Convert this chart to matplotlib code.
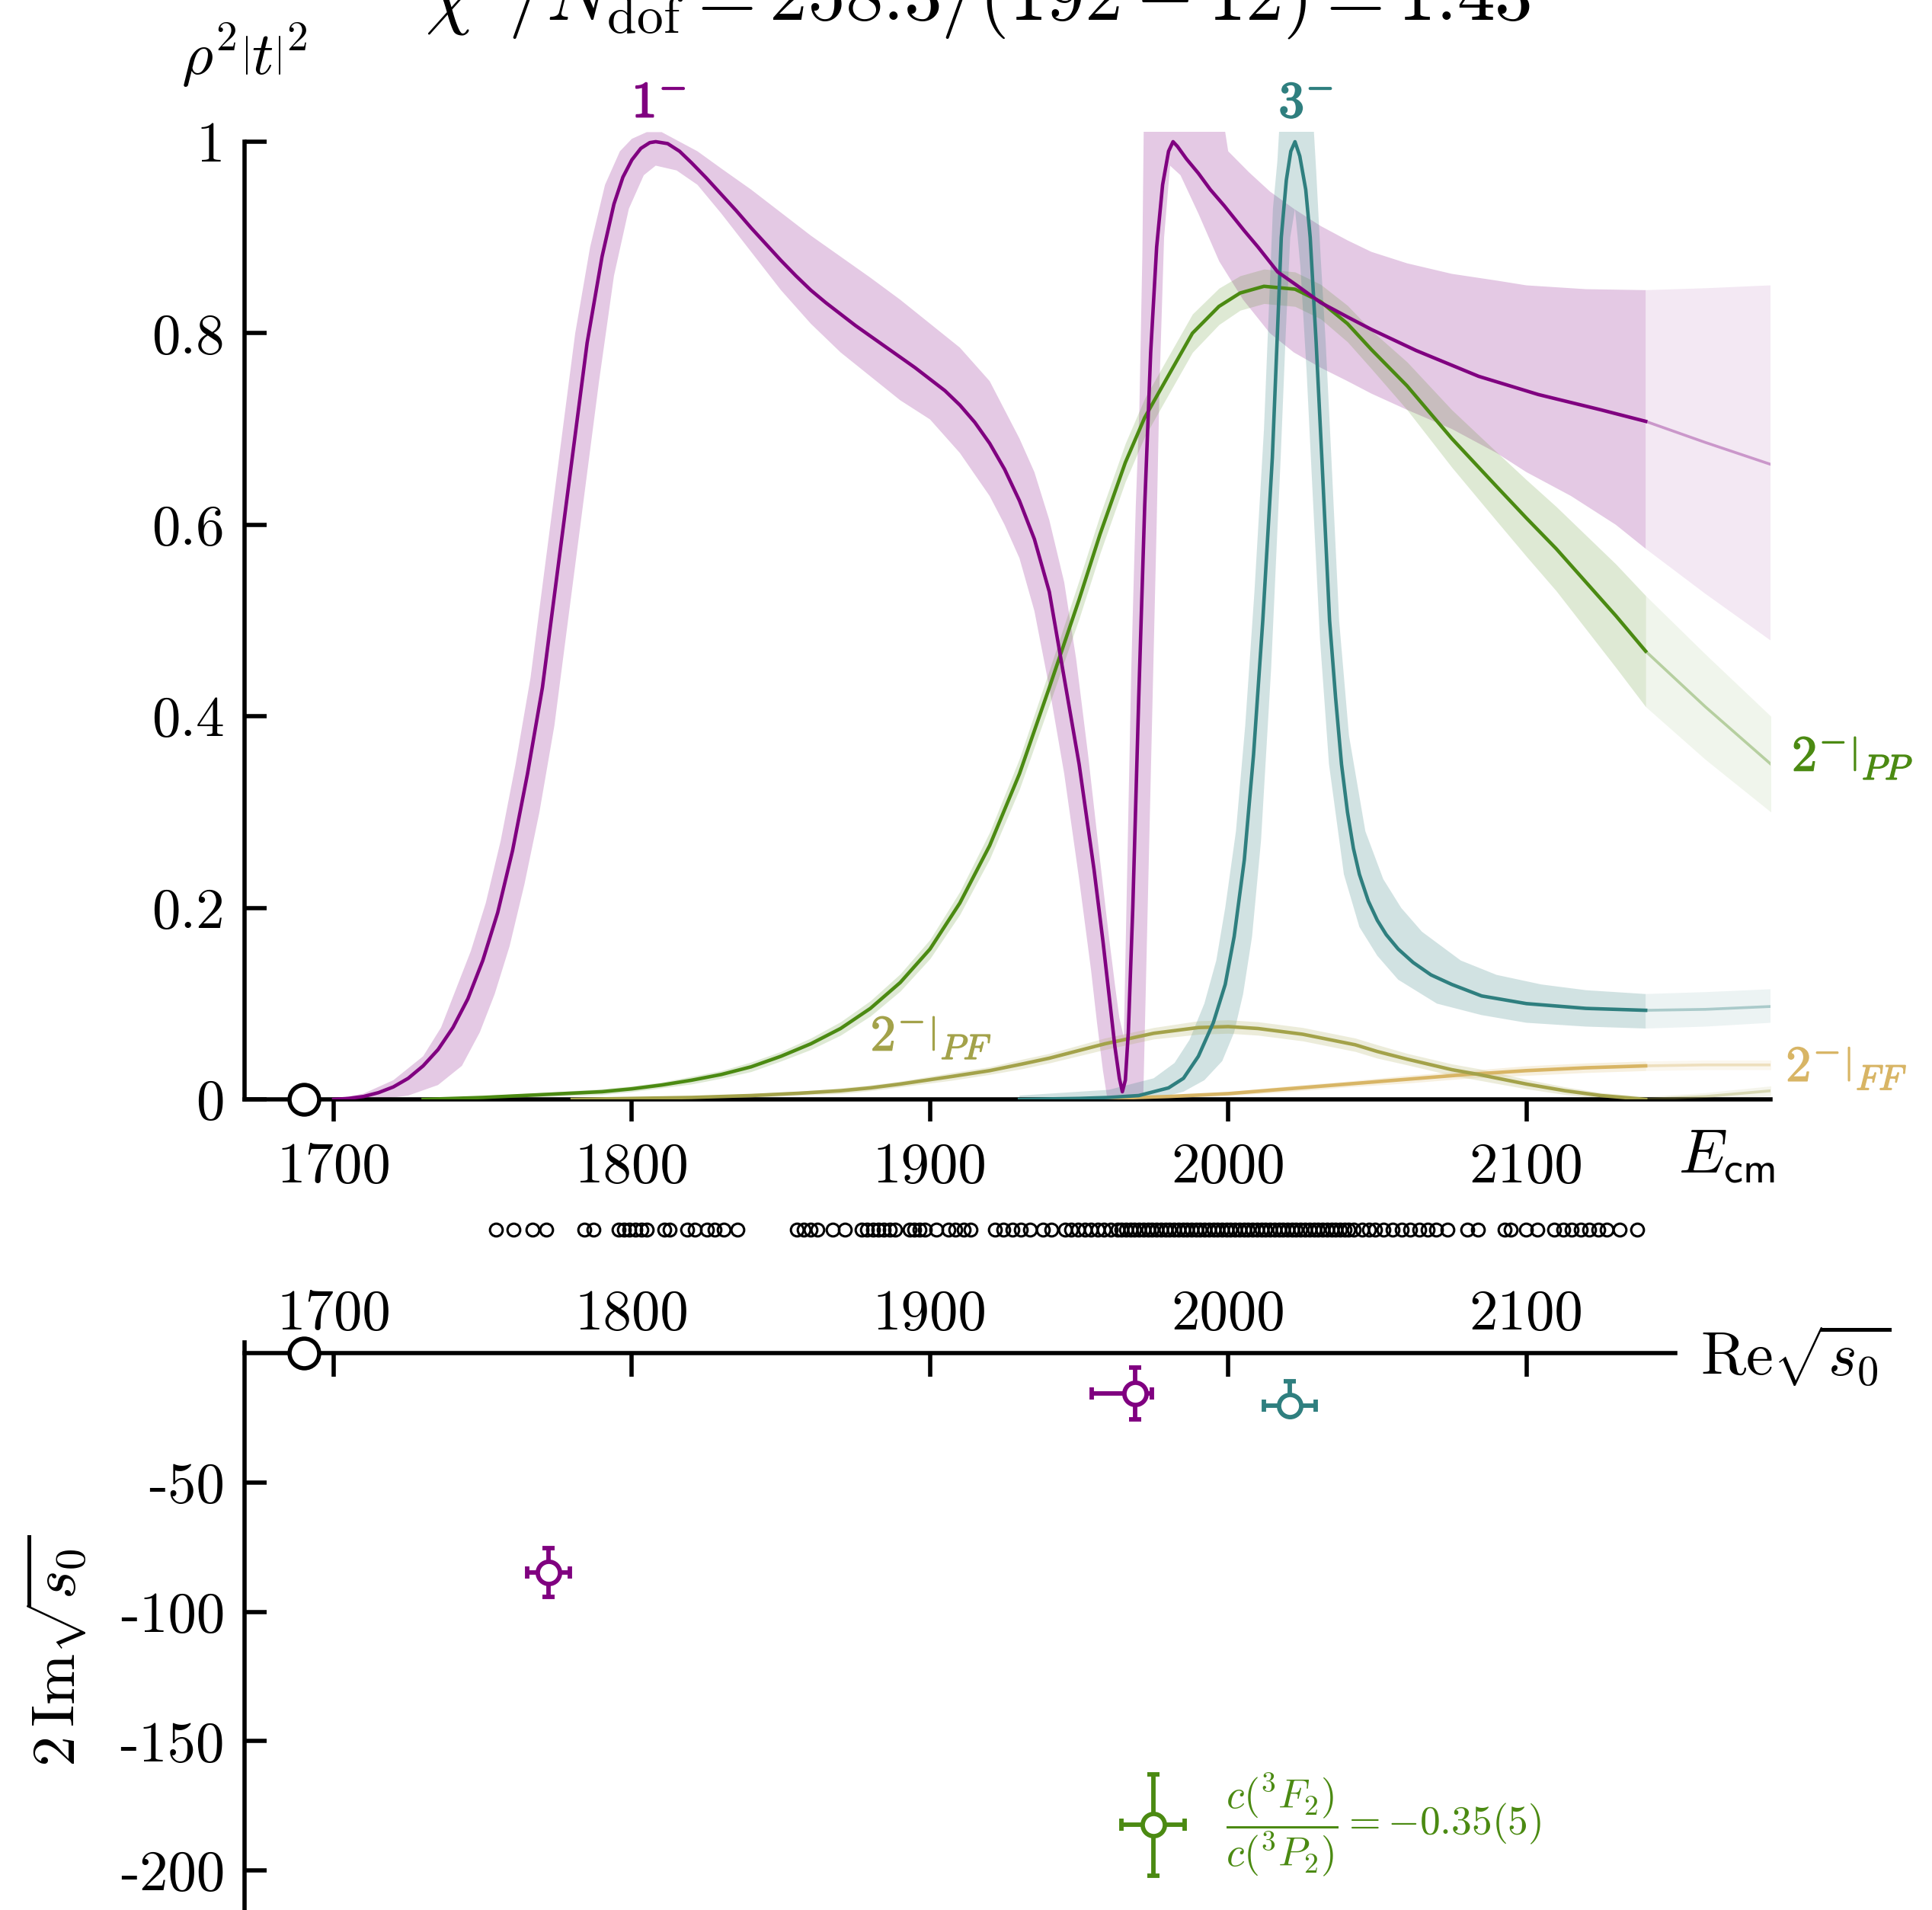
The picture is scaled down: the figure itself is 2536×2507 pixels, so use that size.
import numpy as np
import matplotlib
matplotlib.use("Agg")
import matplotlib.pyplot as plt
import matplotlib.patheffects as pe

plt.rcParams['mathtext.fontset'] = 'cm'
plt.rcParams['font.family'] = ['cmr10', 'DejaVu Serif']
plt.rcParams['axes.formatter.use_mathtext'] = True
plt.rcParams['axes.unicode_minus'] = False

PURPLE = '#800080'
TEAL = '#2f7f7f'
GREEN = '#4b8a12'
OLIVE = '#a3a24a'
GOLD = '#d8b565'

# ---- J^P = 1^- amplitude (central curve and band edges) ----
one_E = [1700, 1705, 1710, 1715, 1720, 1725, 1730, 1735, 1740, 1745, 1750, 1755, 1760, 1765, 1770,
         1775, 1780, 1785, 1790, 1794, 1797, 1800, 1803, 1806, 1808, 1812, 1816, 1820, 1825, 1830,
         1835, 1840, 1845, 1850, 1855, 1860, 1865, 1870, 1875, 1880, 1885, 1890, 1895, 1900, 1905,
         1910, 1915, 1920, 1925, 1930, 1935, 1940, 1945, 1950, 1955, 1958, 1960, 1962, 1963.5,
         1964.5, 1965.5, 1966.5, 1968, 1970, 1972, 1974, 1976, 1978, 1980, 1981.5, 1983, 1986, 1990,
         1994, 1998.7, 2005.4, 2010, 2016.6, 2023, 2031, 2040, 2048, 2063, 2084, 2104, 2125, 2140]
one_v = [0.0, 0.001, 0.003, 0.007, 0.013, 0.022, 0.035, 0.052, 0.075, 0.105, 0.145, 0.195, 0.26, 0.34,
         0.43, 0.55, 0.67, 0.79, 0.88, 0.935, 0.963, 0.981, 0.993, 0.999, 1.0, 0.998, 0.99, 0.978,
         0.962, 0.945, 0.928, 0.91, 0.893, 0.876, 0.86, 0.845, 0.832, 0.82, 0.808, 0.797, 0.786,
         0.775, 0.764, 0.752, 0.74, 0.725, 0.707, 0.685, 0.658, 0.625, 0.585, 0.53, 0.44, 0.35, 0.24,
         0.165, 0.11, 0.055, 0.022, 0.008, 0.02, 0.07, 0.2, 0.42, 0.62, 0.78, 0.89, 0.955, 0.99, 1.0,
         0.995, 0.982, 0.967, 0.95, 0.933, 0.907, 0.89, 0.864, 0.85, 0.832, 0.817, 0.804, 0.782,
         0.755, 0.736, 0.72, 0.708]
one_ext_E = [2140, 2160, 2182]
one_ext_v = [0.708, 0.686, 0.663]

one_hi_E = [1700, 1710, 1720, 1730, 1736, 1741, 1746, 1751, 1756, 1761, 1766, 1771, 1776, 1781, 1786,
            1791, 1796, 1800, 1805, 1810, 1816, 1822, 1830, 1840, 1850, 1860, 1870, 1880, 1890, 1900,
            1910, 1920, 1930, 1935, 1940, 1945, 1949, 1953, 1957, 1960, 1962, 1963.5, 1965, 1966,
            1967.5, 1969, 1970.2, 1971.2, 1971.8, 1997, 2000, 2007, 2014, 2022, 2031, 2040, 2048,
            2060, 2075, 2090, 2100, 2120, 2140]
one_hi_v = [0.0, 0.006, 0.02, 0.045, 0.075, 0.115, 0.155, 0.205, 0.27, 0.35, 0.44, 0.56, 0.68, 0.80,
            0.89, 0.955, 0.99, 1.003, 1.01, 1.01, 1.0, 0.99, 0.972, 0.95, 0.926, 0.902, 0.88, 0.858,
            0.835, 0.81, 0.785, 0.75, 0.69, 0.655, 0.605, 0.54, 0.46, 0.36, 0.25, 0.17, 0.12, 0.085,
            0.065, 0.22, 0.45, 0.62, 0.72, 0.88, 1.05, 1.05, 0.99, 0.968, 0.948, 0.93, 0.912, 0.897,
            0.885, 0.873, 0.862, 0.855, 0.85, 0.846, 0.845]
one_lo_E = [1700, 1715, 1725, 1735, 1743, 1749, 1754, 1759, 1764, 1769, 1774, 1779, 1784, 1789, 1794,
            1799, 1804, 1808, 1815, 1822, 1830, 1840, 1850, 1860, 1870, 1880, 1890, 1900, 1910, 1920,
            1925, 1930, 1935, 1940, 1945, 1950, 1954, 1956, 1958, 1959.5, 1971.5, 1973, 1974.5, 1976,
            1977, 1978.5, 1980.5, 1984, 1990, 1997, 2005, 2014, 2022, 2031, 2040, 2048, 2060, 2075,
            2090, 2100, 2115, 2130, 2140]
one_lo_v = [0.0, 0.0, 0.004, 0.015, 0.035, 0.07, 0.11, 0.16, 0.225, 0.3, 0.39, 0.51, 0.63, 0.75, 0.86,
            0.93, 0.965, 0.975, 0.97, 0.955, 0.925, 0.885, 0.845, 0.81, 0.78, 0.755, 0.73, 0.71, 0.675,
            0.63, 0.6, 0.565, 0.51, 0.43, 0.34, 0.23, 0.135, 0.08, 0.03, 0.0, 0.0, 0.2, 0.4, 0.6, 0.75,
            0.9, 0.975, 0.965, 0.925, 0.875, 0.835, 0.80, 0.78, 0.764, 0.75, 0.737, 0.72, 0.70, 0.675,
            0.655, 0.63, 0.6, 0.575]
one_ext_hi = [0.845, 0.847, 0.85]
one_ext_lo = [0.575, 0.528, 0.479]

# ---- J^P = 3^- amplitude ----
three_E = [1930, 1950, 1960, 1970, 1980, 1985, 1990, 1995, 1999, 2002, 2005.4, 2008.5, 2011.6, 2014.8,
           2016.5, 2017.8, 2019.5, 2021, 2022.4, 2024, 2026, 2027.5, 2029.5, 2031.4, 2034, 2036, 2038,
           2040, 2042, 2044, 2047, 2050, 2053, 2057, 2062, 2068, 2075, 2085, 2100, 2120, 2140]
three_v = [0.0, 0.001, 0.002, 0.004, 0.012, 0.022, 0.045, 0.08, 0.12, 0.17, 0.25, 0.36, 0.5, 0.67, 0.8,
           0.9, 0.96, 0.99, 1.0, 0.985, 0.95, 0.9, 0.79, 0.67, 0.5, 0.42, 0.35, 0.3, 0.262, 0.235,
           0.207, 0.187, 0.172, 0.157, 0.143, 0.13, 0.12, 0.108, 0.1, 0.095, 0.093]
three_ext_E = [2140, 2160, 2182]
three_ext_v = [0.093, 0.094, 0.097]
three_hi_E = [1930, 1960, 1975, 1982, 1987, 1992, 1996, 1999, 2002.6, 2005.7, 2008.8, 2012, 2013.7, 2015,
              2016.5, 2017.8, 2028, 2029.5, 2031, 2032.7, 2034.6, 2037.2, 2040.5, 2046, 2052, 2058,
              2065, 2078, 2090, 2105, 2120, 2140]
three_hi_v = [0.004, 0.01, 0.022, 0.038, 0.062, 0.1, 0.145, 0.2, 0.28, 0.39, 0.53, 0.7, 0.83, 0.93,
              0.98, 1.05, 1.05, 0.97, 0.88, 0.79, 0.67, 0.5, 0.38, 0.28, 0.23, 0.2, 0.175, 0.145, 0.13,
              0.12, 0.114, 0.11]
three_lo_E = [1930, 1975, 1985, 1992, 1998, 2002, 2005, 2008, 2011, 2014.4, 2017.6, 2019.3, 2020.8,
              2022.4, 2024.2, 2026.3, 2028.2, 2030.8, 2033.8, 2038.8, 2044, 2050, 2057, 2070, 2085,
              2100, 2120, 2140]
three_lo_v = [0.0, 0.0, 0.008, 0.02, 0.04, 0.07, 0.11, 0.17, 0.27, 0.45, 0.67, 0.8, 0.9, 0.93, 0.87,
              0.76, 0.64, 0.48, 0.35, 0.235, 0.18, 0.15, 0.125, 0.1, 0.088, 0.08, 0.076, 0.074]
three_ext_hi = [0.11, 0.112, 0.115]
three_ext_lo = [0.074, 0.076, 0.08]

# ---- J^P = 2^- amplitudes: PP, PF and FF channels ----
pp_E = [1730, 1750, 1770, 1790, 1800, 1810, 1820, 1830, 1840, 1850, 1860, 1870, 1880, 1890, 1900,
        1910, 1920, 1930, 1940, 1950, 1957, 1965.5, 1972, 1979.8, 1988, 1996.9, 2004, 2012, 2022.4,
        2031, 2040, 2048, 2060, 2075, 2090, 2100, 2110, 2120, 2130, 2140]
pp_v = [0.0, 0.002, 0.005, 0.008, 0.011, 0.015, 0.02, 0.026, 0.034, 0.045, 0.058, 0.074, 0.095, 0.122,
        0.157, 0.205, 0.265, 0.34, 0.43, 0.522, 0.59, 0.665, 0.712, 0.755, 0.8, 0.828, 0.842, 0.849,
        0.846, 0.833, 0.81, 0.783, 0.745, 0.69, 0.64, 0.607, 0.575, 0.54, 0.505, 0.468]
pp_err = [0.001, 0.002, 0.002, 0.003, 0.003, 0.003, 0.004, 0.004, 0.005, 0.005, 0.006, 0.007, 0.008,
          0.009, 0.01, 0.012, 0.014, 0.016, 0.018, 0.02, 0.02, 0.02, 0.02, 0.02, 0.02, 0.019, 0.018,
          0.018, 0.018, 0.018, 0.019, 0.02, 0.025, 0.03, 0.036, 0.04, 0.044, 0.049, 0.054, 0.058]
pp_ext_E = [2140, 2160, 2182]
pp_ext_v = [0.468, 0.41, 0.35]
pp_ext_err = [0.058, 0.055, 0.05]

pf_E = [1780, 1800, 1820, 1840, 1856, 1870, 1880, 1890, 1907.5, 1920, 1931, 1940, 1958.6, 1975, 1990,
        2000, 2010, 2025, 2042.6, 2050, 2060, 2075, 2084, 2100, 2113, 2125, 2140]
pf_v = [0.0, 0.001, 0.002, 0.004, 0.0064, 0.009, 0.012, 0.016, 0.024, 0.03, 0.037, 0.043, 0.058, 0.069,
        0.075, 0.076, 0.074, 0.068, 0.057, 0.05, 0.042, 0.031, 0.026, 0.016, 0.009, 0.004, 0.0]
pf_err = [0.0, 0.001, 0.001, 0.002, 0.002, 0.003, 0.003, 0.003, 0.004, 0.004, 0.005, 0.005, 0.006,
          0.006, 0.007, 0.007, 0.007, 0.007, 0.007, 0.007, 0.006, 0.006, 0.006, 0.005, 0.004, 0.003,
          0.003]
pf_ext_E = [2140, 2160, 2182]
pf_ext_v = [0.0, 0.003, 0.009]
pf_ext_err = [0.003, 0.004, 0.005]

ff_E = [1950, 1960, 1980, 2000, 2020, 2040, 2060, 2080, 2100, 2120, 2140]
ff_v = [0.0, 0.001, 0.003, 0.006, 0.011, 0.016, 0.021, 0.026, 0.03, 0.033, 0.035]
ff_err = [0.0, 0.001, 0.001, 0.002, 0.003, 0.003, 0.004, 0.004, 0.005, 0.005, 0.005]
ff_ext_E = [2140, 2160, 2182]
ff_ext_v = [0.035, 0.036, 0.036]
ff_ext_err = [0.005, 0.005, 0.005]

# energy levels used in the fit
level_E = [1754.5, 1760.4, 1766.8, 1771.4, 1784.1, 1787.0, 1795.6, 1797.3, 1799.2, 1801.3, 1803.3,
           1804.9, 1810.9, 1812.6, 1818.6, 1821.2, 1825.2, 1827.7, 1830.7, 1835.5, 1855.4, 1857.7,
           1860.0, 1862.3, 1867.4, 1871.4, 1877.1, 1878.8, 1880.9, 1882.8, 1884.5, 1886.6, 1888.2,
           1893.1, 1894.8, 1896.5, 1898.2, 1902.2, 1906.2, 1908.5, 1911.3, 1913.6, 1921.7, 1924.7,
           1927.6, 1930.5, 1933.4, 1937.8, 1940.8, 1945.2, 1947.4, 1949.6, 1951.8, 1954.0, 1956.2,
           1958.4, 1960.6, 1962.8, 1964.2, 1965.7, 1967.2, 1968.6, 1970.1, 1971.6, 1973.0, 1974.5,
           1976.0, 1977.4, 1978.9, 1980.3, 1981.8, 1983.3, 1984.8, 1986.2, 1987.7, 1989.2, 1990.6,
           1992.0, 1993.5, 1995.0, 1996.4, 1997.9, 1999.4, 2000.8, 2002.3, 2003.8, 2005.2, 2006.7,
           2008.2, 2009.6, 2011.1, 2012.6, 2014.0, 2015.5, 2017.0, 2018.4, 2019.9, 2021.4, 2022.8,
           2024.3, 2025.8, 2027.2, 2028.7, 2030.2, 2031.6, 2033.1, 2034.6, 2036.0, 2037.5, 2039.0,
           2040.4, 2042.0, 2044.9, 2047.1, 2049.3, 2052.2, 2055.2, 2058.1, 2061.0, 2064.0, 2066.9,
           2069.8, 2073.5, 2080.1, 2083.8, 2092.6, 2094.8, 2099.9, 2103.6, 2109.4, 2112.3, 2115.3,
           2118.2, 2121.1, 2124.1, 2127.0, 2131.4, 2137.2]

threshold_E = 1690.0

# poles: Re sqrt(s0), 2 Im sqrt(s0) with asymmetric uncertainties
pole_re = [1772.0, 1968.8, 2020.6, 1974.9]
pole_im = [-84.8, -15.6, -20.3, -182.4]
pole_re_lo = [7.2, 14.6, 8.7, 10.6]
pole_re_hi = [7.2, 5.6, 8.7, 10.6]
pole_im_lo = [9.5, 10.0, 4.0, 19.5]
pole_im_hi = [9.5, 10.0, 9.4, 19.5]
pole_colors = [PURPLE, PURPLE, TEAL, GREEN]

e_ticks = [1700, 1800, 1900, 2000, 2100]
e_ticklabels = ['1700', '1800', '1900', '2000', '2100']
amp_ticks = [0, 0.2, 0.4, 0.6, 0.8, 1.0]
amp_ticklabels = ['0', '0.2', '0.4', '0.6', '0.8', '1']
im_ticks = [-50, -100, -150, -200]
im_ticklabels = ['-50', '-100', '-150', '-200']

LW_AX = 4.0
LW_CURVE = 3.3
TICK_FS = 54

fig = plt.figure(figsize=(25.36, 25.07), dpi=100)
ax = fig.add_axes([0.12642, 0.42441, 0.79018, 0.50642])
ax2 = fig.add_axes([0.12642, 0.0, 0.79018, 0.29701])
fig.patch.set_facecolor('white')


def band_polygon(a, hiE, hi, loE, lo, color, alpha, z=1):
    xs = list(hiE) + list(loE)[::-1]
    ys = list(hi) + list(lo)[::-1]
    a.fill(xs, ys, color=color, alpha=alpha, lw=0, zorder=z)


def band_err(a, E, v, err, color, alpha, z=1):
    E = np.asarray(E)
    v = np.asarray(v)
    err = np.asarray(err)
    a.fill_between(E, v - err, v + err, color=color, alpha=alpha, lw=0, zorder=z)


def bold(color, w=1.6):
    return [pe.withStroke(linewidth=w, foreground=color)]


# ---- upper panel: rho^2 |t|^2 ----
ax.set_xlim(1670, 2182)
ax.set_ylim(0, 1.01)

band_polygon(ax, one_hi_E, one_hi_v, one_lo_E, one_lo_v, PURPLE, 0.21)
band_polygon(ax, one_ext_E, one_ext_hi, one_ext_E, one_ext_lo, PURPLE, 0.09)
band_err(ax, pp_E, pp_v, pp_err, GREEN, 0.18)
band_err(ax, pp_ext_E, pp_ext_v, pp_ext_err, GREEN, 0.08)
band_polygon(ax, three_hi_E, three_hi_v, three_lo_E, three_lo_v, TEAL, 0.22)
band_polygon(ax, three_ext_E, three_ext_hi, three_ext_E, three_ext_lo, TEAL, 0.09)
band_err(ax, pf_E, pf_v, pf_err, OLIVE, 0.2)
band_err(ax, pf_ext_E, pf_ext_v, pf_ext_err, OLIVE, 0.1)
band_err(ax, ff_E, ff_v, ff_err, GOLD, 0.2)
band_err(ax, ff_ext_E, ff_ext_v, ff_ext_err, GOLD, 0.1)

for E, v, ext_E, ext_v, c in [
        (ff_E, ff_v, ff_ext_E, ff_ext_v, GOLD),
        (pf_E, pf_v, pf_ext_E, pf_ext_v, OLIVE),
        (pp_E, pp_v, pp_ext_E, pp_ext_v, GREEN),
        (three_E, three_v, three_ext_E, three_ext_v, TEAL),
        (one_E, one_v, one_ext_E, one_ext_v, PURPLE)]:
    ax.plot(E, v, color=c, lw=LW_CURVE, zorder=3, solid_joinstyle='round')
    ax.plot(ext_E, ext_v, color=c, lw=LW_CURVE * 0.8, alpha=0.35, zorder=3)

ax.plot(level_E, np.full(len(level_E), -0.1364), 'o', mfc='none', mec='black', ms=12, mew=2.2,
        clip_on=False, zorder=4)
ax.plot([threshold_E], [0], 'o', mfc='white', mec='black', ms=28, mew=4.0, clip_on=False, zorder=10)

for side in ('top', 'right'):
    ax.spines[side].set_visible(False)
for side in ('left', 'bottom'):
    ax.spines[side].set_linewidth(LW_AX)
ax.spines['left'].set_bounds(0, 1)
ax.set_xticks(e_ticks)
ax.set_xticklabels(e_ticklabels)
ax.set_yticks(amp_ticks)
ax.set_yticklabels(amp_ticklabels)
ax.tick_params(axis='x', direction='out', length=21, width=LW_AX, pad=20, labelsize=TICK_FS)
ax.tick_params(axis='y', direction='in', length=21, width=LW_AX, pad=18.5, labelsize=TICK_FS)

lab_fs = 48
ax.text(1809, 1.0258, r'$\mathbf{1}^{-}$', color=PURPLE, ha='center', va='baseline', fontsize=lab_fs,
        clip_on=False, path_effects=bold(PURPLE))
ax.text(2026, 1.0258, r'$\mathbf{3}^{-}$', color=TEAL, ha='center', va='baseline', fontsize=lab_fs,
        clip_on=False, path_effects=bold(TEAL))
ax.text(2189, 0.343, r'$\left.\mathbf{2}^{-}\right|_{PP}$', color=GREEN, ha='left', va='baseline',
        fontsize=lab_fs, clip_on=False, path_effects=bold(GREEN, 1.0))
ax.text(2187, 0.019, r'$\left.\mathbf{2}^{-}\right|_{FF}$', color=GOLD, ha='left', va='baseline',
        fontsize=lab_fs, clip_on=False, path_effects=bold(GOLD, 1.0))
ax.text(1880, 0.051, r'$\left.\mathbf{2}^{-}\right|_{PF}$', color=OLIVE, ha='left', va='baseline',
        fontsize=lab_fs, clip_on=False, path_effects=bold(OLIVE, 1.0))
ax.text(2151, -0.076, r'$E_{\mathsf{cm}}$', ha='left', va='baseline', fontsize=58, clip_on=False)

fig.text(0.0938, 0.9609, r'$\rho^2\left|t\right|^2$', ha='left', va='baseline', fontsize=57)
fig.text(0.5063, 0.98923, r'$\chi^2/N_{\mathrm{dof}} = 258.3/(192-12) = 1.43$', ha='center',
         va='baseline', fontsize=71.5)

# ---- lower panel: pole positions ----
ax2.set_xlim(1670, 2182)
ax2.set_ylim(-215.3, 4)
for side in ('right', 'bottom'):
    ax2.spines[side].set_visible(False)
ax2.spines['top'].set_position(('data', 0))
ax2.spines['top'].set_bounds(1670, 2150)
for side in ('left', 'top'):
    ax2.spines[side].set_linewidth(LW_AX)
ax2.xaxis.set_ticks_position('top')
ax2.set_xticks(e_ticks)
ax2.set_xticklabels(e_ticklabels)
ax2.set_yticks(im_ticks)
ax2.set_yticklabels(im_ticklabels)
ax2.tick_params(axis='x', direction='in', length=22, width=LW_AX, pad=11.5, labelsize=TICK_FS)
ax2.tick_params(axis='y', direction='in', length=21, width=LW_AX, pad=18.5, labelsize=TICK_FS)

ax2.plot([threshold_E], [0], 'o', mfc='white', mec='black', ms=28, mew=4.0, clip_on=False, zorder=10)

for i in range(len(pole_re)):
    c = pole_colors[i]
    ax2.errorbar([pole_re[i]], [pole_im[i]],
                 xerr=[[pole_re_lo[i]], [pole_re_hi[i]]],
                 yerr=[[pole_im_lo[i]], [pole_im_hi[i]]],
                 fmt='o', color=c, mfc='white', mec=c, ms=21, mew=4.2,
                 elinewidth=4.2, capsize=6, capthick=4.2, clip_on=False, zorder=5)

ax2.text(1999.2, -182.4, r'$\dfrac{c(^{3}F_{2})}{c(^{3}P_{2})} = -0.35(5)$', color=GREEN,
         ha='left', va='center', fontsize=38.5)
ax2.text(2158.4, -8.5, r'$\mathrm{Re}\sqrt{s_0}$', ha='left', va='baseline', fontsize=58,
         clip_on=False)
fig.text(0.0288, 0.1356, r'$2\,\mathrm{Im}\sqrt{s_0}$', rotation=90, ha='center', va='center',
         fontsize=58)

fig.savefig('out.png', dpi=100, facecolor='white')
